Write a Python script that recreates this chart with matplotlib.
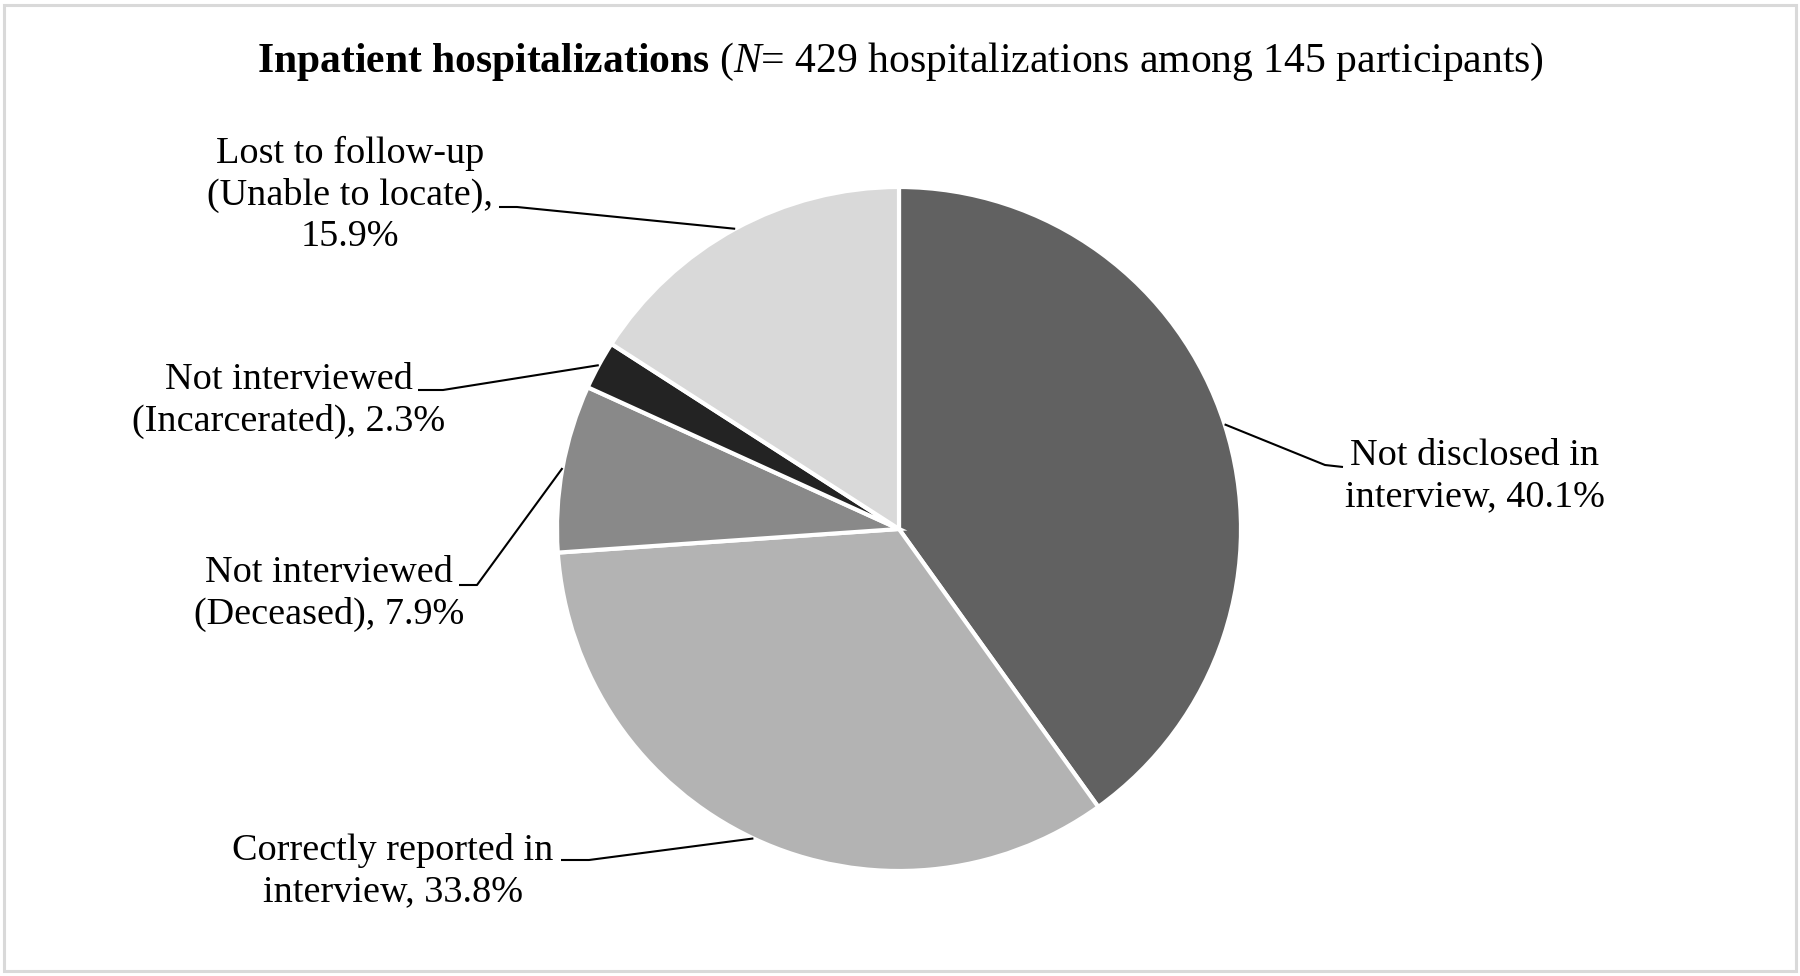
import numpy as np
import matplotlib
matplotlib.use("Agg")
import matplotlib.pyplot as plt
from matplotlib.patches import Rectangle

plt.rcParams['font.family'] = ['Liberation Serif', 'DejaVu Serif']
plt.rcParams['mathtext.fontset'] = 'custom'
plt.rcParams['mathtext.rm'] = 'Liberation Serif'
plt.rcParams['mathtext.it'] = 'Liberation Serif:italic'
plt.rcParams['mathtext.bf'] = 'Liberation Serif:bold'

# Data (clockwise from 12 o'clock)
categories = ['Not disclosed in\ninterview',
              'Correctly reported in\ninterview',
              'Not interviewed\n(Deceased)',
              'Not interviewed\n(Incarcerated)',
              'Lost to follow-up\n(Unable to locate),']
shares = [40.1, 33.8, 7.9, 2.3, 15.9]
colors = ['#616161', '#b3b3b3', '#898989', '#232323', '#d9d9d9']

# label text: how each label is broken into lines
label_texts = ['Not disclosed in\ninterview, 40.1%',
               'Correctly reported in\ninterview, 33.8%',
               'Not interviewed\n(Deceased), 7.9%',
               'Not interviewed\n(Incarcerated), 2.3%',
               'Lost to follow-up\n(Unable to locate),\n15.9%']

# layout (pixel units; given top-down, flipped to y-up)
W, H = 1800, 976
center = (899, H - 529)
radius = 342
label_pos = [(1475, H - 476), (393, H - 871), (329, H - 594), (289, H - 401), (350, H - 195)]
# leader start (next to text) and knee point
leader_start = [(1343, H - 467), (561, H - 860), (459, H - 585), (418, H - 390), (499, H - 207)]
leader_knee = [(1325, H - 465), (589, H - 860), (477, H - 585), (443, H - 390), (517, H - 207)]

fig = plt.figure(figsize=(W / 100, H / 100), dpi=100)
ax = fig.add_axes([0, 0, 1, 1])
ax.set_xlim(0, W)
ax.set_ylim(0, H)
ax.set_aspect('equal')
ax.axis('off')

wedges, _ = ax.pie(shares, colors=colors, startangle=90, counterclock=False,
                   center=center, radius=radius,
                   wedgeprops=dict(edgecolor='white', linewidth=3))
ax.set_xlim(0, W)
ax.set_ylim(0, H)

for w, txt, pos, st, kn in zip(wedges, label_texts, label_pos, leader_start, leader_knee):
    mid = np.deg2rad((w.theta1 + w.theta2) / 2)
    tip = (center[0] + radius * np.cos(mid), center[1] + radius * np.sin(mid))
    ax.plot([st[0], kn[0], tip[0]], [st[1], kn[1], tip[1]], color='black', lw=1.5,
            solid_capstyle='butt')
    ax.text(pos[0], pos[1], txt, ha='center', va='center', fontsize=27.5,
            linespacing=1.25, color='black')

title = (r"$\mathbf{Inpatient\ hospitalizations}$ ($\mathit{N}$= 429 "
         "hospitalizations among 145 participants)")
ax.text(900, H - 62, title, ha='center', va='center', fontsize=30, color='black')

fig.patches.append(Rectangle((4 / W, 5 / H), (W - 8) / W, (H - 10) / H,
                             transform=fig.transFigure, fill=False,
                             edgecolor='#d9d9d9', linewidth=2.2))

fig.savefig('out.png', dpi=100, facecolor='white')
